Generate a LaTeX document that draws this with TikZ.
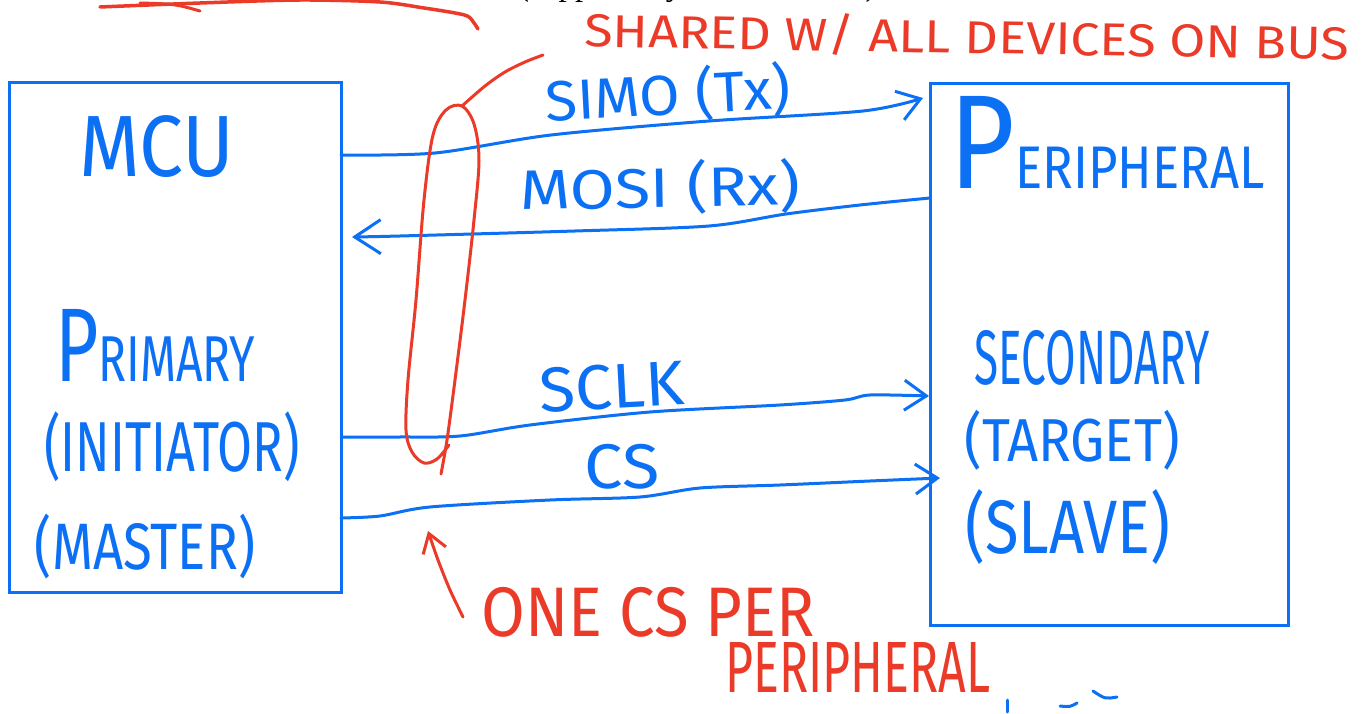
\documentclass[tikz,border=0pt]{standalone}
\usepackage{fontspec}
\usetikzlibrary{arrows.meta}
\IfFontExistsTF{FiraSans-Light.otf}
  {\newfontfamily\hand{FiraSans-Light.otf}}
  {\newfontfamily\hand{Fira Sans}}
\newfontfamily\printed{Liberation Serif}
\definecolor{inkblue}{RGB}{12,112,245}
\definecolor{inkred}{RGB}{236,58,40}
% hand-lettered label squeezed into a w x h box
\newcommand{\hw}[3]{\resizebox*{#1pt}{#2pt}{\hand #3}}
\tikzset{
  ink/.style={line width=3pt, line cap=round, line join=round},
  bluewire/.style={ink, draw=inkblue},
  redink/.style={ink, draw=inkred},
  barb/.style={-{Straight Barb[length=22pt,width=30pt]}},
  box/.style={draw=inkblue, line width=3pt, inner sep=0pt, outer sep=0pt},
  bluetxt/.style={text=inkblue, inner sep=0pt},
  redtxt/.style={text=inkred, inner sep=0pt},
}
\begin{document}
\begin{tikzpicture}[x=1pt,y=-1pt]
\useasboundingbox (0,0) rectangle (1369,714);
\clip (0,0) rectangle (1369,714);
\fill[white] (0,0) rectangle (1369,714);

% printed line running off the top edge
\node[anchor=base west, inner sep=0pt, font=\printed\fontsize{33}{33}\selectfont] (heading) at (518,-4) {(supplied by the instructor)};

% the two devices
\node[box, minimum width=332pt, minimum height=509pt] (mcu) at (175,337.5) {};
\node[box, minimum width=358pt, minimum height=541pt] (periph) at (1109,354.5) {};

\node[bluetxt] (mcuname) at (157,147) {\hw{155}{62}{MCU}};
\node[bluetxt] (primary) at (155,345) {\hw{200}{72}{P\scalebox{0.62}{RIMARY}}};
\node[bluetxt] (initiator) at (172,447) {\hw{255}{70}{(INITIATOR)}};
\node[bluetxt] (master) at (145,547) {\hw{220}{65}{(MASTER)}};

\node[bluetxt] (periphname) at (1107,142) {\hw{315}{92}{P\scalebox{0.45}{ERIPHERAL}}};
\node[bluetxt] (secondary) at (1092,358) {\hw{235}{55}{SECONDARY}};
\node[bluetxt] (target) at (1072,440) {\hw{215}{60}{(TARGET)}};
\node[bluetxt] (slave) at (1068,527) {\hw{205}{75}{(SLAVE)}};

% bus lines
\coordinate (simoS) at (341,155);
\coordinate (simoE) at (923,98);
\coordinate (mosiS) at (930,198);
\coordinate (mosiE) at (352,237);
\coordinate (sclkS) at (341,437);
\coordinate (sclkE) at (929,396);
\coordinate (csS) at (341,518);
\coordinate (csE) at (940,478);

\draw[bluewire, barb] plot[smooth, tension=0.5] coordinates
  {(simoS) (435,153) (551,135) (709,121) (863,111) (simoE)};
\draw[bluewire, -{Straight Barb[length=26pt,width=34pt]}] plot[smooth, tension=0.5] coordinates
  {(mosiS) (860,205) (786,214) (709,226) (575,231) (400,236) (mosiE)};
\draw[bluewire, barb] plot[smooth, tension=0.5] coordinates
  {(sclkS) (400,437) (460,436) (530,425) (650,412) (780,405) (845,400) (870,395) (sclkE)};
\draw[bluewire, barb] plot[smooth, tension=0.5] coordinates
  {(csS) (380,516) (430,507) (550,500) (640,497) (700,488) (780,485) (870,481) (csE)};

\node[bluetxt, rotate=3] (simolbl) at (668,95) {\hw{245}{56}{SIMO (Tx)}};
\node[bluetxt, rotate=1] (mosilbl) at (660,188) {\hw{280}{55}{MOSI (Rx)}};
\node[bluetxt, rotate=3] (sclklbl) at (612,387) {\hw{145}{45}{SCLK}};
\node[bluetxt] (cslbl) at (622,467) {\hw{75}{45}{CS}};

% grouping loop round the shared lines
\coordinate (looptop) at (462,106);
\draw[redink] plot[smooth, tension=0.55] coordinates
  {(441,474) (447,440) (455,380) (465,300) (474,220) (479,160) (474,124)
   (looptop) (446,110) (433,135) (424,200) (416,300) (408,380) (406,430)
   (412,452) (424,463) (437,459) (449,445)};

\node[redtxt, rotate=-1] (sharedlbl) at (967,37) {\hw{765}{42}{SHARED W/ ALL DEVICES ON BUS}};
\coordinate (leaderE) at (543,55);
\draw[redink] plot[smooth, tension=0.5] coordinates
  {(looptop) (485,86) (505,72) (525,62) (leaderE)};

% per-peripheral chip select note
\node[redtxt] (onecs) at (648,612) {\hw{333}{50}{ONE CS PER}};
\node[redtxt] (onecs2) at (858,667) {\hw{265}{50}{PERIPHERAL}};
\coordinate (noteS) at (463,617);
\coordinate (noteE) at (428,531);
\draw[redink, -{Straight Barb[length=18pt,width=24pt]}] plot[smooth, tension=0.5] coordinates
  {(noteS) (450,590) (438,560) (noteE)};

% red stroke along the top edge
\draw[redink, line width=3.5pt] plot[smooth, tension=0.5] coordinates
  {(100,7) (200,3) (300,0) (380,2) (424,8) (455,13) (469,17) (478,29)};
\draw[redink] (140,3) .. controls (175,4) .. (200,11);

% stray pen marks
\draw[bluewire] (1007,700) -- (1007,712);
\draw[bluewire] (1060,706) .. controls (1070,707) .. (1077,703);
\draw[bluewire] (1093,691) .. controls (1105,699) .. (1117,697);
\end{tikzpicture}
\end{document}
